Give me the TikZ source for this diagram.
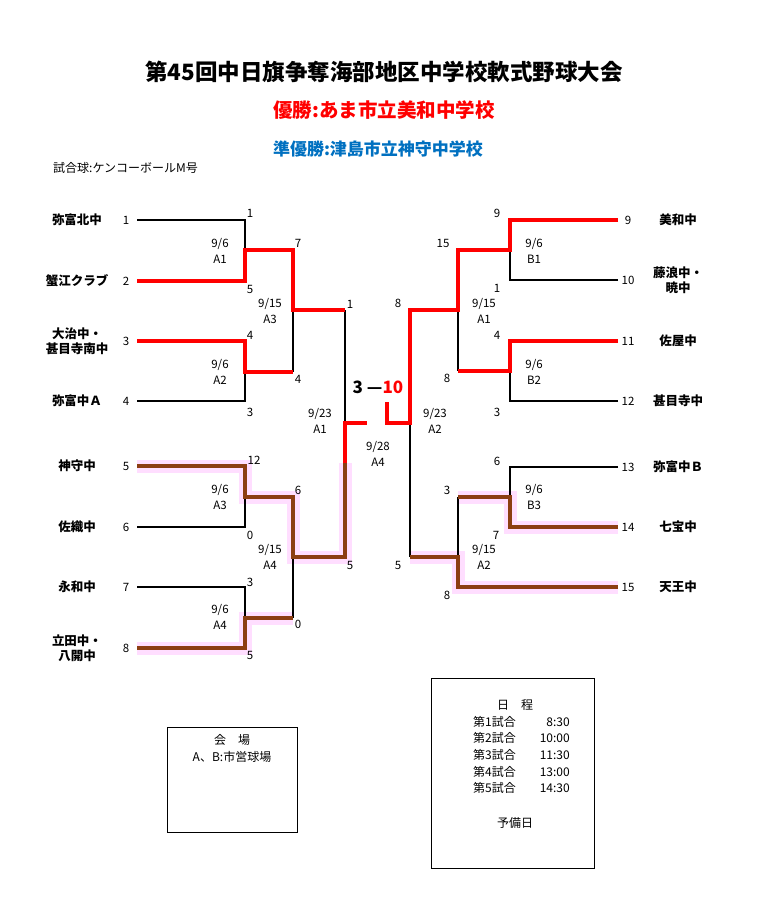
\documentclass[tikz,border=0pt]{standalone}
\usepackage{fontspec}
\setmainfont{Noto Sans CJK JP}
\usetikzlibrary{positioning}
\usetikzlibrary{calc}

\definecolor{winred}{RGB}{255,0,0}
\definecolor{runbrown}{RGB}{140,62,18}
\definecolor{glowpink}{RGB}{255,222,255}
\definecolor{subblue}{RGB}{0,112,192}

\begin{document}
\begin{tikzpicture}[x=1pt, y=-1pt,
    lose/.style={draw=black, line width=1.3pt},
    win/.style={draw=winred, line width=4pt},
    runner/.style={draw=runbrown, line width=4pt},
    glow/.style={draw=glowpink, line width=13pt},
    team/.style={font=\bfseries\fontsize{12.5}{15}\selectfont, align=center, inner sep=0pt},
    num/.style={font=\fontsize{11.5}{12}\selectfont, inner sep=0pt},
    game/.style={font=\fontsize{11.5}{16}\selectfont, align=center, inner sep=0pt},
    info/.style={font=\fontsize{12}{14}\selectfont, inner sep=0pt}]

        \useasboundingbox (0,0) rectangle (768,914);

        % Titles
        \node[font=\bfseries\fontsize{22.5}{26}\selectfont] (title) at (384,72) {第45回中日旗争奪海部地区中学校軟式野球大会};
        \node[font=\bfseries\fontsize{19.5}{22}\selectfont, text=winred] (champ) at (384,110) {優勝:あま市立美和中学校};
        \node[font=\bfseries\fontsize{17}{20}\selectfont, text=subblue] (second) at (378,149) {準優勝:津島市立神守中学校};
        \node[inner sep=0pt, font=\fontsize{12}{13}\selectfont, anchor=west] (ball) at (53,168) {試合球:ケンコーボールM号};

        % Left teams: number / row / name
        \foreach \n/\y/\name in {1/220/弥富北中, 2/281/蟹江クラブ, 3/341/大治中・\\甚目寺南中, 4/401/弥富中Ａ,
                                 5/466/神守中, 6/527/佐織中, 7/587/永和中, 8/648/立田中・\\八開中} {
          \node[team] (t\n) at (77,\y) {\name};
          \node[num] (n\n) at (126,\y) {\n};
          \coordinate (s\n) at (137,\y);
        }

        % Right teams
        \foreach \n/\y/\name in {9/220/美和中, 10/280/藤浪中・\\暁中, 11/341/佐屋中, 12/401/甚目寺中,
                                 13/467/弥富中Ｂ, 14/527/七宝中, 15/587/天王中} {
          \node[team] (t\n) at (678,\y) {\name};
          \node[num] (n\n) at (628,\y) {\n};
          \coordinate (s\n) at (618,\y);
        }

        % Junctions, left half
        \coordinate (m1) at (245,250);
        \coordinate (m2) at (245,372);
        \coordinate (m3) at (245,497);
        \coordinate (m4) at (245,618);
        \coordinate (q1) at (293,310);
        \coordinate (q2) at (293,557);
        \coordinate (f1) at (345,423);
        \coordinate (f2) at (345,463);
        \coordinate (fL) at (367,423);

        % Junctions, right half
        \coordinate (r1) at (510,250);
        \coordinate (r2) at (510,371);
        \coordinate (r3) at (510,497);
        \coordinate (p1) at (458,310);
        \coordinate (p2) at (458,557);
        \coordinate (g1) at (410,423);
        \coordinate (gR) at (387,423);
        \coordinate (gT) at (387,402);

        % Pink glow under the brown runs
        \draw[glow] (s5) -| (m3) -| (q2) -| (f2);
        \draw[glow] (s8) -| (m4) -- (m4 -| q2);
        \draw[glow] (s14) -| (r3) -- (r3 -| p2);
        \draw[glow] (s15) -| (p2) -- (p2 -| g1);

        % Plain lines
        \draw[lose] (s1) -| (m1);
        \draw[lose] (s4) -| (m2);
        \draw[lose] (q1) -- (q1 |- m2);
        \draw[lose] (s6) -| (m3);
        \draw[lose] (s7) -| (m4);
        \draw[lose] (q2) -- (q2 |- m4);
        \draw[lose] (q1 -| f1) -- (f1);
        \draw[lose] (s10) -| (r1);
        \draw[lose] (s12) -| (r2);
        \draw[lose] (p1) -- (p1 |- r2);
        \draw[lose] (s13) -| (r3);
        \draw[lose] (r3 -| p2) -- (p2);
        \draw[lose] (g1) -- (g1 |- p2);

        % Red runs
        \draw[win] (s2) -| (m1) -| (q1) -- (q1 -| f1);
        \draw[win] (s3) -| (m2) -- (m2 -| q1);
        \draw[win] (f2) -- (f1) -- (fL);
        \draw[win] (s9) -| (r1) -| (p1) -| (g1) -- (gR) -- (gT);
        \draw[win] (s11) -| (r2) -- (r2 -| p1);

        % Brown runs
        \draw[runner] (s5) -| (m3) -| (q2) -| (f2);
        \draw[runner] (s8) -| (m4) -- (m4 -| q2);
        \draw[runner] (s14) -| (r3) -- (r3 -| p2);
        \draw[runner] (s15) -| (p2) -- (p2 -| g1);

        % Scores
        \foreach \t/\x/\y [count=\k] in {1/250/213, 5/250/289, 4/250/335, 3/250/412, 12/254/460, 0/250/535,
                                         3/250/582, 5/250/655, 7/298/243, 4/298/379, 6/298/490, 0/298/624,
                                         1/350/304, 5/350/565, 9/497/213, 1/497/288, 4/497/335, 3/497/412,
                                         6/497/461, 7/496/535, 15/443/243, 8/447/378, 3/447/490, 8/447/595,
                                         8/398/303, 5/398/565}
          \node[num] (sc\k) at (\x,\y) {\t};

        % Dates and courts
        \foreach \d/\c/\x/\y [count=\k] in {6/A1/220/251, 6/A2/220/372, 6/A3/220/497, 6/A4/220/617,
                                            15/A3/270/311, 15/A4/270/557, 23/A1/320/421, 28/A4/378/454,
                                            6/B1/534/251, 6/B2/534/372, 6/B3/534/497,
                                            15/A1/484/311, 15/A2/484/557, 23/A2/435/421}
          \node[game] (gm\k) at (\x,\y) {9/\d\\\c};

        % Final score
        \node[font=\bfseries\fontsize{17}{20}\selectfont, inner sep=0pt] (final) at (378,387) {3 —\textcolor{winred}{10}};

        % Venue box
        \node[draw, line width=1pt, minimum width=130pt, minimum height=105pt, anchor=north west] (venue) at (167,727) {};
        \node[info] (venueT) at (232,740) {会　場};
        \node[info] (venueA) at (232,757) {A、B:市営球場};

        % Schedule box
        \node[draw, line width=1pt, minimum width=163pt, minimum height=190pt, anchor=north west] (sched) at (431,678) {};
        \node[info] (schedT) at (515,705) {日　程};
        \foreach \k/\y/\tm in {1/722/8:30, 2/738/10:00, 3/755/11:30, 4/772/13:00, 5/788/14:30} {
          \node[info, anchor=west] (no\k) at (473,\y) {第{\k}試合};
          \node[info, anchor=east] (tm\k) at (570,\y) {\tm};
        }
        \node[info] (spare) at (515,823) {予備日};

      \end{tikzpicture}
\end{document}
